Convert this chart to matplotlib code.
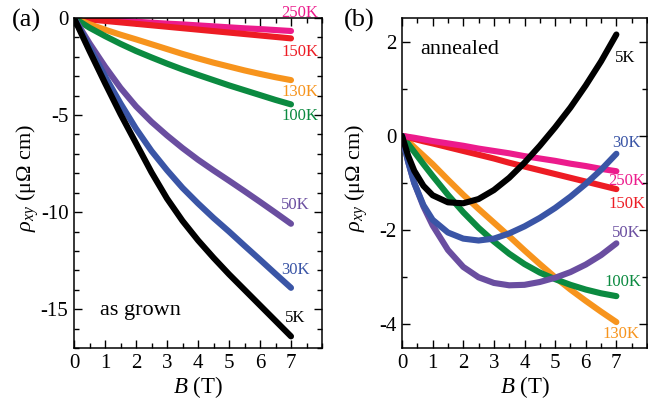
import numpy as np
import matplotlib
matplotlib.use("Agg")
import matplotlib.pyplot as plt
from matplotlib.ticker import MultipleLocator

plt.rcParams['font.family'] = ['Liberation Serif', 'DejaVu Serif']
plt.rcParams['mathtext.fontset'] = 'custom'
plt.rcParams['mathtext.rm'] = 'Liberation Serif'
plt.rcParams['mathtext.it'] = 'Liberation Serif:italic'
plt.rcParams['axes.unicode_minus'] = False

# ---- data ----
# (a) as grown
B_a = [0, 0.5, 1, 1.5, 2, 2.5, 3, 3.5, 4, 4.5, 5, 5.5, 6, 6.5, 7]
a_250K = [0, -0.05, -0.1, -0.14, -0.19, -0.24, -0.29, -0.33, -0.38, -0.43, -0.48, -0.53, -0.57, -0.62, -0.67]
a_150K = [0, -0.075, -0.15, -0.225, -0.3, -0.375, -0.45, -0.525, -0.6, -0.675, -0.75, -0.825, -0.9, -0.975, -1.05]
a_130K = [0, -0.32, -0.6, -0.86, -1.1, -1.35, -1.6, -1.85, -2.08, -2.3, -2.5, -2.7, -2.88, -3.05, -3.2]
a_100K = [0, -0.5, -0.93, -1.33, -1.7, -2.03, -2.35, -2.65, -2.93, -3.2, -3.47, -3.72, -3.97, -4.22, -4.45]
a_50K = [0, -1.3, -2.5, -3.6, -4.55, -5.35, -6.05, -6.7, -7.3, -7.85, -8.38, -8.92, -9.47, -10.03, -10.6]
a_30K = [0, -1.5, -3.0, -4.4, -5.7, -6.85, -7.84, -8.75, -9.55, -10.3, -11.0, -11.73, -12.45, -13.18, -13.9]
a_5K = [0, -1.7, -3.35, -4.95, -6.45, -7.95, -9.3, -10.45, -11.45, -12.35, -13.2, -14.0, -14.8, -15.6, -16.4]

# (b) annealed
B_b = [0, 0.2, 0.4, 0.7, 1, 1.5, 2, 2.5, 3, 3.5, 4, 4.5, 5, 5.5, 6, 6.5, 7]
b_250K = [0, -0.02, -0.04, -0.075, -0.11, -0.16, -0.21, -0.27, -0.32, -0.37, -0.43, -0.48, -0.53, -0.59, -0.64, -0.70, -0.75]
b_150K = [0, -0.03, -0.065, -0.115, -0.16, -0.24, -0.32, -0.40, -0.48, -0.57, -0.65, -0.73, -0.81, -0.89, -0.97, -1.05, -1.13]
b_130K = [0, -0.12, -0.24, -0.42, -0.6, -0.93, -1.25, -1.55, -1.84, -2.13, -2.43, -2.72, -3.0, -3.26, -3.5, -3.73, -3.95]
b_100K = [0, -0.17, -0.34, -0.6, -0.85, -1.25, -1.62, -1.95, -2.24, -2.5, -2.72, -2.9, -3.04, -3.16, -3.26, -3.34, -3.4]
b_50K = [0, -0.55, -1.0, -1.5, -1.9, -2.42, -2.78, -3.0, -3.12, -3.17, -3.16, -3.1, -3.01, -2.89, -2.73, -2.53, -2.28]
b_30K = [0, -0.55, -1.0, -1.47, -1.78, -2.05, -2.18, -2.22, -2.18, -2.07, -1.92, -1.74, -1.53, -1.29, -1.02, -0.72, -0.38]
b_5K = [0, -0.42, -0.74, -1.06, -1.26, -1.41, -1.43, -1.34, -1.15, -0.89, -0.57, -0.21, 0.18, 0.6, 1.07, 1.58, 2.15]

temps = ['250K', '150K', '130K', '100K', '50K', '30K', '5K']
colors = ['#ec1b8c', '#ed1c24', '#f7941d', '#0b8a40', '#6a4ea0', '#3a55a6', '#000000']

series_a = [a_250K, a_150K, a_130K, a_100K, a_50K, a_30K, a_5K]
series_b = [b_250K, b_150K, b_130K, b_100K, b_50K, b_30K, b_5K]

# label positions (B, rho) next to the curve ends
lab_a = [(7.28, 0.26), (7.28, -1.75), (7.28, -3.8), (7.28, -5.05), (7.15, -9.64), (7.15, -13.0), (7.13, -15.45)]
lab_b = [(7.35, -0.95), (7.35, -1.45), (7.15, -4.2), (7.2, -3.1), (7.32, -2.07), (7.32, -0.15), (7.28, 1.66)]

# drawing order in (b): orange, green, red, pink, purple, blue, black
zorder_b = [4, 3, 1, 2, 5, 6, 7]

fig = plt.figure(figsize=(6.48, 3.99), dpi=100)
ax1 = fig.add_axes([74/648, 51/399, 248/648, 330/399])
ax2 = fig.add_axes([402/648, 51/399, 245/648, 330/399])


def style(ax):
    ax.xaxis.set_major_locator(MultipleLocator(1))
    ax.xaxis.set_minor_locator(MultipleLocator(0.5))
    ax.tick_params(which='both', direction='in', top=True, right=True, width=1.0, labelsize=15)
    ax.tick_params(which='major', length=6, pad=4)
    ax.tick_params(which='minor', length=3.5)
    for s in ax.spines.values():
        s.set_linewidth(1.1)
    ax.set_xlim(0, 8)
    ax.set_xticks(range(8))
    ax.set_xlabel(r'$B$ (T)', fontsize=16.5, labelpad=1)


for y, c, t, (lx, ly) in zip(series_a, colors, temps, lab_a):
    ax1.plot(B_a, y, color=c, lw=4.4, solid_capstyle='round', solid_joinstyle='round')
    ax1.text(lx, ly, t, color=c, fontsize=12, ha='center', va='center')
style(ax1)
ax1.set_ylim(-17, 0)
ax1.yaxis.set_major_locator(MultipleLocator(5))
ax1.yaxis.set_minor_locator(MultipleLocator(1))
ax1.text(2.14, -15.05, 'as grown', fontsize=16, ha='center', va='center')

for y, c, t, (lx, ly), z in zip(series_b, colors, temps, lab_b, zorder_b):
    ax2.plot(B_b, y, color=c, lw=4.4, solid_capstyle='round', solid_joinstyle='round', zorder=z)
    ax2.text(lx, ly, t, color=c, fontsize=12, ha='center', va='center', zorder=10)
style(ax2)
ax2.set_ylim(-4.5, 2.5)
ax2.yaxis.set_major_locator(MultipleLocator(2))
ax2.yaxis.set_minor_locator(MultipleLocator(1))
ax2.text(1.88, 1.83, 'annealed', fontsize=16, ha='center', va='center')

ylab = r'$\rho_{xy}$ (μΩ cm)'
fig.text(28/648, 1 - 178/399, ylab, fontsize=16, rotation=90, ha='center', va='center')
fig.text(357/648, 1 - 178/399, ylab, fontsize=16, rotation=90, ha='center', va='center')
fig.text(26/648, 1 - 20/399, '(a)', fontsize=19, ha='center', va='center')
fig.text(359/648, 1 - 20/399, '(b)', fontsize=19, ha='center', va='center')

fig.savefig('out.png', dpi=100)
